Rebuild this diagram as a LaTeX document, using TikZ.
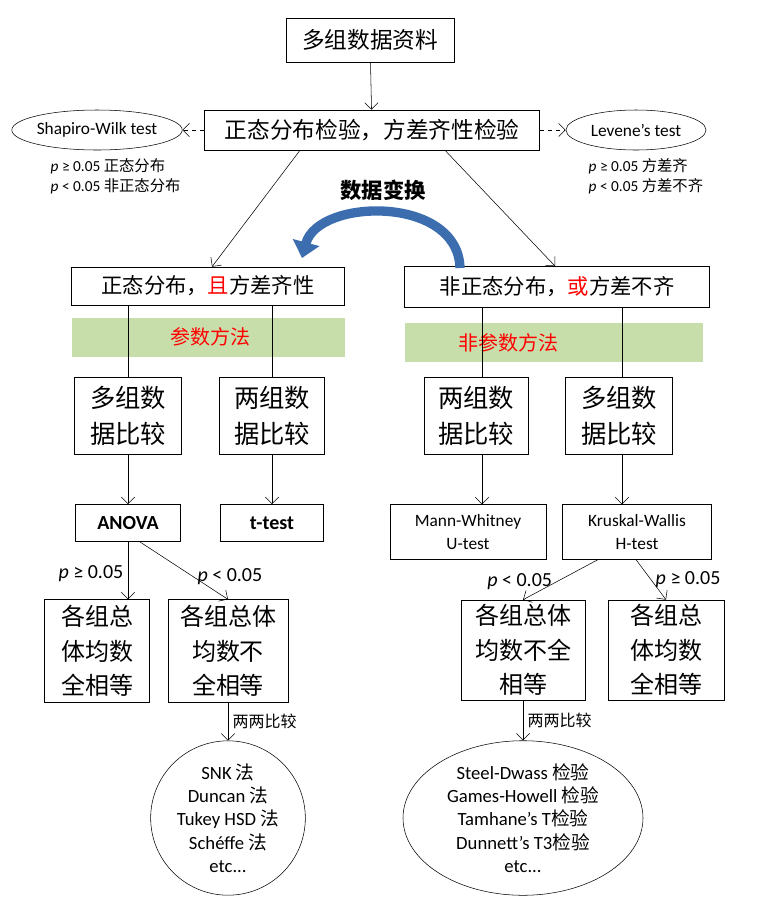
\documentclass[tikz,border=0pt]{standalone}
\usepackage{fontspec}
\setmainfont{Carlito}
\newfontfamily\cjk{Noto Sans CJK SC}
\usetikzlibrary{arrows.meta,shapes.geometric}
\definecolor{band}{RGB}{200,222,170}
\definecolor{arcblue}{RGB}{60,110,175}
\newcommand{\pv}[2]{\textit{p} #1 #2}
\begin{document}
\begin{tikzpicture}[x=0.75pt, y=-0.75pt]
	\tikzset{bx/.style={draw, thin, align=center, inner sep=0pt},
		el/.style={draw, thin, ellipse, align=center, inner sep=0pt},
		ar/.style={-{Straight Barb[length=5pt]}, thin},
		lb/.style={font=\fontsize{15}{17}\selectfont}};
	\useasboundingbox (0,0) rectangle (762,908);

	\node[bx, minimum width=126pt, minimum height=33pt, font=\cjk\fontsize{17}{20}\selectfont] (top) at (370,40) {多组数据资料};
	\node[bx, minimum width=251pt, minimum height=30pt, font=\cjk\fontsize{17}{20}\selectfont] (chk) at (372,130) {正态分布检验，方差齐性检验};
	\node[el, minimum width=120pt, minimum height=30pt, font=\fontsize{13}{15}\selectfont] (sw) at (97,130) {Shapiro-Wilk test};
	\node[el, minimum width=105pt, minimum height=30pt, font=\fontsize{13}{15}\selectfont] (lv) at (636,130) {Levene's test};
	\node[anchor=north west, align=left, font=\fontsize{11.5}{15}\selectfont] (swp) at (46,154) {\pv{≥}{0.05} {\cjk 正态分布}\\\pv{<}{0.05} {\cjk 非正态分布}};
	\node[anchor=north west, align=left, font=\fontsize{11.5}{15}\selectfont] (lvp) at (584,154) {\pv{≥}{0.05} {\cjk 方差齐}\\\pv{<}{0.05} {\cjk 方差不齐}};
	\node[font=\cjk\bfseries\fontsize{16}{18}\selectfont] (trans) at (383,190) {数据变换};

	\node[bx, minimum width=205pt, minimum height=28.5pt, font=\cjk\fontsize{16}{19}\selectfont] (norm) at (208,286) {正态分布，\textcolor{red}{且}方差齐性};
	\node[bx, minimum width=229pt, minimum height=31pt, font=\cjk\fontsize{16}{19}\selectfont] (nonn) at (557,287) {非正态分布，\textcolor{red}{或}方差不齐};

	\fill[band] (72,318) rectangle (345,357);
	\fill[band] (405,323) rectangle (703,362);
	\node[text=red, font=\cjk\fontsize{15}{18}\selectfont] (par) at (210,337) {参数方法};
	\node[text=red, font=\cjk\fontsize{15}{18}\selectfont] (npar) at (508,343) {非参数方法};

	\node[bx, minimum width=80pt, minimum height=58pt, font=\cjk\fontsize{19}{27}\selectfont] (lmulti) at (128,416) {多组数\\据比较};
	\node[bx, minimum width=79pt, minimum height=58pt, font=\cjk\fontsize{19}{27}\selectfont] (ltwo) at (272,416) {两组数\\据比较};
	\node[bx, minimum width=78pt, minimum height=58pt, font=\cjk\fontsize{19}{27}\selectfont] (rtwo) at (476,416) {两组数\\据比较};
	\node[bx, minimum width=80pt, minimum height=58pt, font=\cjk\fontsize{19}{27}\selectfont] (rmulti) at (619,416) {多组数\\据比较};

	\node[bx, minimum width=79pt, minimum height=28pt, font=\bfseries\fontsize{15}{18}\selectfont] (anova) at (128,523) {ANOVA};
	\node[bx, minimum width=77pt, minimum height=28pt, font=\bfseries\fontsize{15}{18}\selectfont] (ttest) at (272,523) {t-test};
	\node[bx, minimum width=117pt, minimum height=41pt, font=\fontsize{13}{17}\selectfont] (mw) at (468,532) {Mann-Whitney\\U-test};
	\node[bx, minimum width=112pt, minimum height=41pt, font=\fontsize{13}{17}\selectfont] (kw) at (637,532) {Kruskal-Wallis\\H-test};

	\node[bx, minimum width=79pt, minimum height=77pt, font=\cjk\fontsize{18}{26}\selectfont] (leq) at (97,651) {各组总\\体均数\\全相等};
	\node[bx, minimum width=90pt, minimum height=77pt, font=\cjk\fontsize{18}{26}\selectfont] (lneq) at (228,651) {各组总体\\均数不\\全相等};
	\node[bx, minimum width=93pt, minimum height=75pt, font=\cjk\fontsize{18}{26}\selectfont] (rneq) at (523,650) {各组总体\\均数不全\\相等};
	\node[bx, minimum width=87pt, minimum height=75pt, font=\cjk\fontsize{18}{26}\selectfont] (req) at (666,650) {各组总\\体均数\\全相等};

	\node[el, minimum width=116pt, minimum height=105pt, font=\fontsize{14}{17.5}\selectfont] (lpost) at (228,818) {SNK {\cjk 法}\\Duncan {\cjk 法}\\Tukey HSD {\cjk 法}\\Schéffe {\cjk 法}\\etc...};
	\node[el, minimum width=180pt, minimum height=105pt, font=\fontsize{14}{17.5}\selectfont] (rpost) at (523,818) {Steel-Dwass {\cjk 检验}\\Games-Howell {\cjk 检验}\\Tamhane's T{\cjk 检验}\\Dunnett's T3{\cjk 检验}\\etc...};

	\draw[ar] (top) -- (chk);
	\draw[ar, dashed] (chk) -- (sw);
	\draw[ar, dashed] (chk) -- (lv);
	\draw[ar] (chk.south west -| 300,0) -- (norm.north -| 212,0);
	\draw[ar] (chk.south west -| 445,0) -- (nonn.north -| 555,0);
	\draw[line width=7pt, arcblue, -{Triangle[length=12pt, width=20pt]}] (460,268) .. controls (458,195) and (318,198) .. (302,258);

	\draw (norm.south -| lmulti.north) -- (lmulti.north);
	\draw (norm.south -| ltwo.north) -- (ltwo.north);
	\draw (nonn.south -| 482,0) -- (rtwo.north -| 482,0);
	\draw (nonn.south -| 622,0) -- (rmulti.north -| 622,0);

	\draw[ar] (lmulti) -- (anova);
	\draw[ar] (ltwo) -- (ttest);
	\draw[ar] (rtwo.south -| 482,0) -- (mw.north -| 482,0);
	\draw[ar] (rmulti.south -| 622,0) -- (kw.north -| 622,0);

	\draw[ar] (anova) -- node[lb, left, pos=0.55] {\pv{≥}{0.05}} (leq.north -| 128,0);
	\draw[ar] (anova.south east -| 140,0) -- node[lb, pos=0.6, right] {\pv{<}{0.05}} (lneq.north);
	\draw[ar] (kw.south west -| 598,0) -- node[lb, pos=0.55, left] {\pv{<}{0.05}} (rneq.north);
	\draw[ar] (kw.south -| 636,0) -- node[lb, pos=0.5, right] {\pv{≥}{0.05}} (req.north -| 666,0);

	\draw[ar] (lneq) -- node[right, font=\cjk\fontsize{12}{14}\selectfont] {两两比较} (lpost);
	\draw[ar] (rneq) -- node[right, font=\cjk\fontsize{12}{14}\selectfont] {两两比较} (rpost);
\end{tikzpicture}
\end{document}
